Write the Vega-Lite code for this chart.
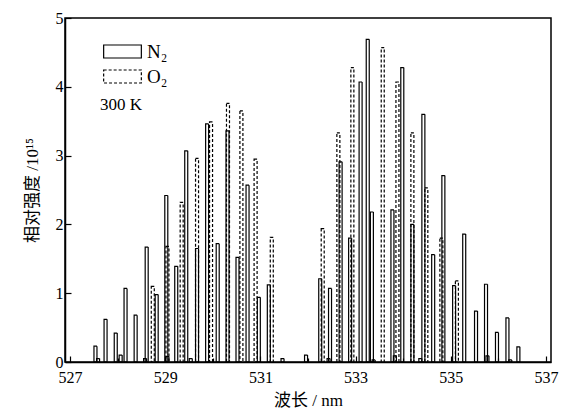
{
  "$schema": "https://vega.github.io/schema/vega-lite/v6.json",
  "width": 486,
  "height": 344,
  "autosize": "none",
  "padding": {"left": 65, "top": 18, "right": 14, "bottom": 58},
  "background": "white",
  "config": {
    "view": {"stroke": "black", "strokeWidth": 1.5},
    "font": "Liberation Serif",
    "axis": {"grid": false, "domainColor": "black", "domainWidth": 1.5, "tickColor": "black", "tickWidth": 1.2,
             "labelFont": "Liberation Serif", "labelFontSize": 16, "labelColor": "black",
             "titleFont": "Liberation Serif, Noto Sans CJK SC", "titleFontSize": 17, "titleFontWeight": "normal", "titleColor": "black"}
  },
  "data": {"values": [
    {"wl": 527.535, "intensity": 0.23, "species": "N₂"},
    {"wl": 527.59, "intensity": 0.05, "species": "N₂"},
    {"wl": 527.747, "intensity": 0.62, "species": "N₂"},
    {"wl": 527.961, "intensity": 0.42, "species": "N₂"},
    {"wl": 528.064, "intensity": 0.1, "species": "N₂"},
    {"wl": 528.167, "intensity": 1.07, "species": "N₂"},
    {"wl": 528.379, "intensity": 0.68, "species": "N₂"},
    {"wl": 528.578, "intensity": 0.05, "species": "N₂"},
    {"wl": 528.611, "intensity": 1.67, "species": "N₂"},
    {"wl": 528.821, "intensity": 0.98, "species": "N₂"},
    {"wl": 529.023, "intensity": 2.42, "species": "N₂"},
    {"wl": 529.047, "intensity": 0.08, "species": "N₂"},
    {"wl": 529.232, "intensity": 1.39, "species": "N₂"},
    {"wl": 529.442, "intensity": 3.07, "species": "N₂"},
    {"wl": 529.537, "intensity": 0.05, "species": "N₂"},
    {"wl": 529.669, "intensity": 1.65, "species": "N₂"},
    {"wl": 529.881, "intensity": 3.46, "species": "N₂"},
    {"wl": 530.103, "intensity": 1.72, "species": "N₂"},
    {"wl": 530.309, "intensity": 3.36, "species": "N₂"},
    {"wl": 530.519, "intensity": 1.52, "species": "N₂"},
    {"wl": 530.73, "intensity": 2.57, "species": "N₂"},
    {"wl": 530.967, "intensity": 0.94, "species": "N₂"},
    {"wl": 531.177, "intensity": 1.12, "species": "N₂"},
    {"wl": 531.465, "intensity": 0.05, "species": "N₂"},
    {"wl": 531.959, "intensity": 0.1, "species": "N₂"},
    {"wl": 532.257, "intensity": 1.21, "species": "N₂"},
    {"wl": 532.432, "intensity": 0.05, "species": "N₂"},
    {"wl": 532.463, "intensity": 1.07, "species": "N₂"},
    {"wl": 532.685, "intensity": 2.91, "species": "N₂"},
    {"wl": 532.885, "intensity": 1.8, "species": "N₂"},
    {"wl": 533.105, "intensity": 4.07, "species": "N₂"},
    {"wl": 533.255, "intensity": 4.69, "species": "N₂"},
    {"wl": 533.342, "intensity": 2.18, "species": "N₂"},
    {"wl": 533.379, "intensity": 0.03, "species": "N₂"},
    {"wl": 533.774, "intensity": 2.21, "species": "N₂"},
    {"wl": 533.825, "intensity": 0.09, "species": "N₂"},
    {"wl": 533.981, "intensity": 4.28, "species": "N₂"},
    {"wl": 534.193, "intensity": 2.0, "species": "N₂"},
    {"wl": 534.36, "intensity": 0.05, "species": "N₂"},
    {"wl": 534.424, "intensity": 3.6, "species": "N₂"},
    {"wl": 534.63, "intensity": 1.56, "species": "N₂"},
    {"wl": 534.844, "intensity": 2.71, "species": "N₂"},
    {"wl": 535.07, "intensity": 1.11, "species": "N₂"},
    {"wl": 535.282, "intensity": 1.86, "species": "N₂"},
    {"wl": 535.53, "intensity": 0.74, "species": "N₂"},
    {"wl": 535.74, "intensity": 1.13, "species": "N₂"},
    {"wl": 535.77, "intensity": 0.09, "species": "N₂"},
    {"wl": 535.97, "intensity": 0.43, "species": "N₂"},
    {"wl": 536.19, "intensity": 0.64, "species": "N₂"},
    {"wl": 536.25, "intensity": 0.03, "species": "N₂"},
    {"wl": 536.42, "intensity": 0.22, "species": "N₂"},
    {"wl": 528.739, "intensity": 1.1, "species": "O₂"},
    {"wl": 529.047, "intensity": 1.68, "species": "O₂"},
    {"wl": 529.346, "intensity": 2.32, "species": "O₂"},
    {"wl": 529.669, "intensity": 2.96, "species": "O₂"},
    {"wl": 529.963, "intensity": 3.49, "species": "O₂"},
    {"wl": 530.319, "intensity": 3.76, "species": "O₂"},
    {"wl": 530.601, "intensity": 3.65, "species": "O₂"},
    {"wl": 530.899, "intensity": 2.95, "species": "O₂"},
    {"wl": 531.239, "intensity": 1.81, "species": "O₂"},
    {"wl": 532.309, "intensity": 1.94, "species": "O₂"},
    {"wl": 532.638, "intensity": 3.33, "species": "O₂"},
    {"wl": 532.932, "intensity": 4.28, "species": "O₂"},
    {"wl": 533.57, "intensity": 4.57, "species": "O₂"},
    {"wl": 533.879, "intensity": 4.07, "species": "O₂"},
    {"wl": 534.193, "intensity": 3.33, "species": "O₂"},
    {"wl": 534.486, "intensity": 2.53, "species": "O₂"},
    {"wl": 534.802, "intensity": 1.8, "species": "O₂"},
    {"wl": 535.128, "intensity": 1.18, "species": "O₂"}
  ]},
  "mark": {"type": "bar", "orient": "vertical", "size": 3, "fill": "transparent", "stroke": "black", "strokeWidth": 1.2},
  "encoding": {
    "x": {"field": "wl", "type": "quantitative",
          "scale": {"domain": [527, 537], "nice": false, "zero": false},
          "axis": {"title": "波长 / nm", "values": [527,528,529,530,531,532,533,534,535,536,537],
                   "labelExpr": "datum.value % 2 === 1 ? datum.label : ''",
                   "tickSize": {"condition": {"test": "datum.value % 2 === 1", "value": -6}, "value": -4},
                   "labelPadding": 13, "titlePadding": 7}},
    "y": {"field": "intensity", "type": "quantitative", "stack": null,
          "scale": {"domain": [0, 5], "nice": false},
          "axis": {"title": "相对强度 /10¹⁵", "values": [0,0.5,1,1.5,2,2.5,3,3.5,4,4.5,5], "format": "d",
                   "labelExpr": "datum.value % 1 === 0 ? datum.label : ''",
                   "tickSize": {"condition": {"test": "datum.value % 1 === 0", "value": -6}, "value": -4},
                   "labelPadding": 8, "titlePadding": 14}},
    "strokeDash": {"field": "species", "type": "nominal",
                   "scale": {"domain": ["N₂", "O₂"], "range": [[1, 0], [3, 2]]},
                   "legend": {"orient": "none", "legendX": 35, "legendY": 24, "title": "300 K",
                              "titleOrient": "bottom", "titleAnchor": "start", "titleFontSize": 17, "titleFontWeight": "normal",
                              "titleFont": "Liberation Serif", "titlePadding": 10, "titleColor": "black",
                              "symbolType": "M-0.9,-1H4.9V1H-0.9Z", "symbolSize": 169,
                              "symbolFillColor": "white", "symbolStrokeColor": "black", "symbolStrokeWidth": 1.2,
                              "labelFont": "Liberation Serif", "labelFontSize": 19, "labelColor": "black", "labelOffset": 28,
                              "rowPadding": 5, "padding": 0}}
  }
}
